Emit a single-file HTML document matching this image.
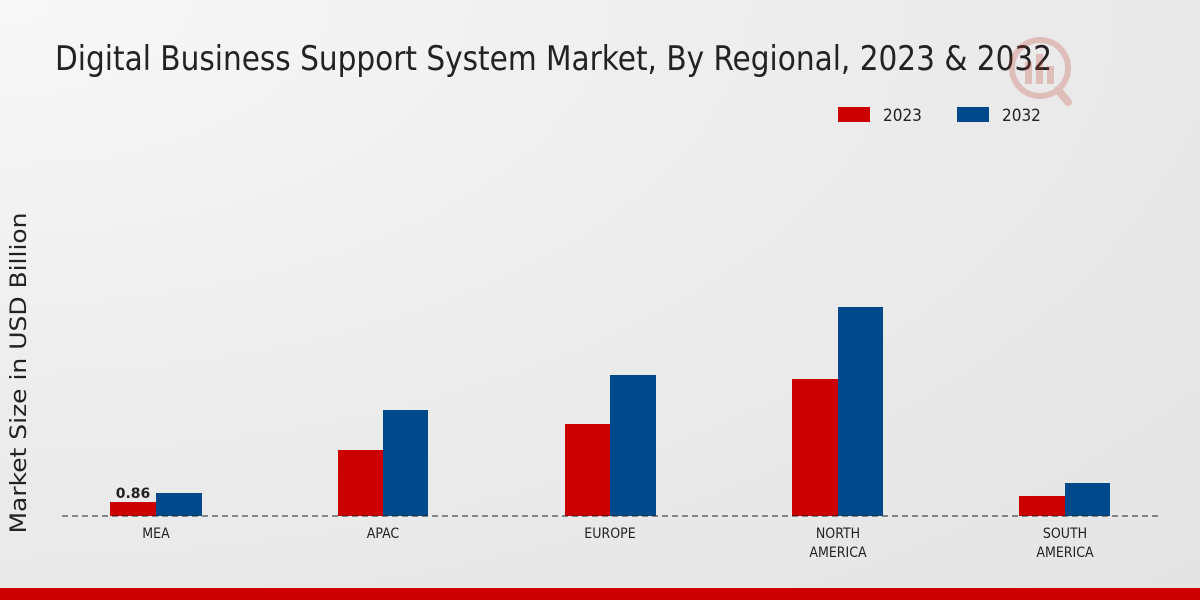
<!DOCTYPE html>
<html><head><meta charset="utf-8"><style>
html,body{margin:0;padding:0;width:1200px;height:600px;overflow:hidden}
body{background:radial-gradient(ellipse at 0% 0%,#f8f8f8 0%,#ececec 50%,#e4e4e4 100%);font-family:"DejaVu Sans","Liberation Sans",sans-serif}
</style></head><body>
<svg width="1200" height="600" xmlns="http://www.w3.org/2000/svg" style="position:absolute;left:0;top:0">
<text x="55" y="70" font-size="34" textLength="997" lengthAdjust="spacingAndGlyphs" fill="#222" font-family="DejaVu Sans Condensed, DejaVu Sans, sans-serif">Digital Business Support System Market, By Regional, 2023 &amp; 2032</text>
<g opacity="0.25" fill="#c0392b">
<circle cx="1040" cy="68" r="28" fill="none" stroke="#c0392b" stroke-width="6"/>
<rect x="1025" y="62" width="7" height="22"/><rect x="1036" y="54" width="7" height="30"/><rect x="1047" y="66" width="7" height="18"/>
<line x1="1058" y1="90" x2="1068" y2="102" stroke="#c0392b" stroke-width="8" stroke-linecap="round"/>
</g>
<rect x="838" y="107" width="32" height="15" fill="#cc0000"/>
<text x="883" y="121" font-size="17" fill="#222" font-family="DejaVu Sans Condensed, DejaVu Sans, sans-serif">2023</text>
<rect x="957" y="107" width="32" height="15" fill="#004a8c"/>
<text x="1002" y="121" font-size="17" fill="#222" font-family="DejaVu Sans Condensed, DejaVu Sans, sans-serif">2032</text>
<text transform="translate(26,373) rotate(-90)" text-anchor="middle" font-size="22" textLength="321" lengthAdjust="spacingAndGlyphs" fill="#222">Market Size in USD Billion</text>
<g fill="#cc0000">
<rect x="110" y="502" width="46" height="14"/>
<rect x="338" y="450" width="45" height="66"/>
<rect x="565" y="424" width="45" height="92"/>
<rect x="792" y="379" width="46" height="137"/>
<rect x="1019" y="496" width="46" height="20"/>
</g>
<g fill="#004a8c">
<rect x="156" y="493" width="46" height="23"/>
<rect x="383" y="410" width="45" height="106"/>
<rect x="610" y="375" width="46" height="141"/>
<rect x="838" y="307" width="45" height="209"/>
<rect x="1065" y="483" width="45" height="33"/>
</g>
<line x1="62" y1="516" x2="1160" y2="516" stroke="#222" stroke-width="1" stroke-dasharray="6,4"/>
<text x="133" y="498" text-anchor="middle" font-size="14" font-weight="bold" fill="#222">0.86</text>
<g font-size="14" fill="#222" text-anchor="middle" font-family="DejaVu Sans Condensed, DejaVu Sans, sans-serif">
<text x="156" y="538">MEA</text>
<text x="383" y="538">APAC</text>
<text x="610" y="538">EUROPE</text>
<text x="838" y="538">NORTH</text><text x="838" y="557">AMERICA</text>
<text x="1065" y="538">SOUTH</text><text x="1065" y="557">AMERICA</text>
</g>
<rect x="0" y="588" width="1200" height="12" fill="#cc0000"/>
</svg>
</body></html>
